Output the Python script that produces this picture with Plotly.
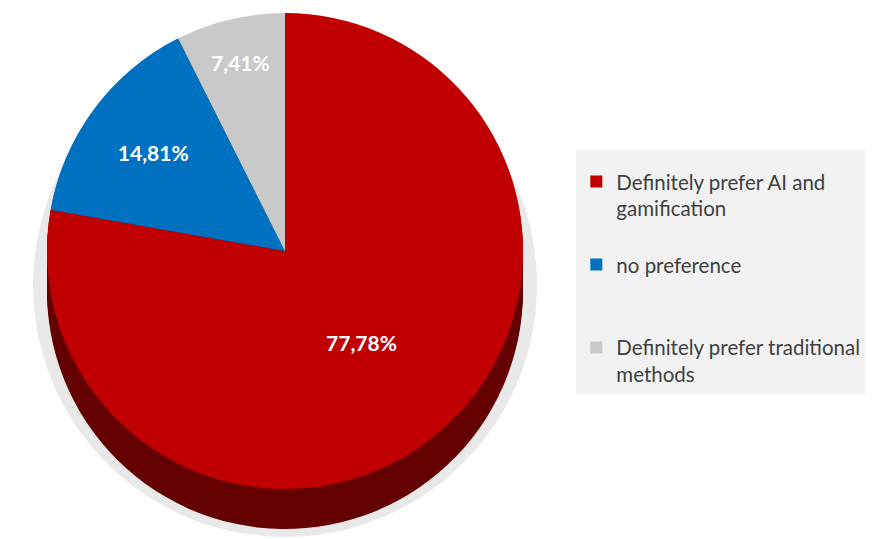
import plotly.graph_objects as go

# ---- data ----
categories = ["Definitely prefer AI and gamification", "no preference",
              "Definitely prefer traditional methods"]
legend_labels = ["Definitely prefer AI and<br>gamification<br> ",
                 "no preference<br> <br> ",
                 "Definitely prefer traditional<br>methods"]
values = [77.78, 14.81, 7.41]

top_colors = ["#c00000", "#0070c0", "#c9c9c9"]
side_colors = ["#640000", "#003f6e", "#8c8c8c"]

# ---- layout geometry (figure pixels; page has an 8px body margin) ----
W, H = 873, 539
cx, cy, r = 277, 243, 238
depth = 40


def dom(cxp, cyp, rp):
    return dict(x=[(cxp - rp) / W, (cxp + rp) / W],
                y=[1 - (cyp + rp) / H, 1 - (cyp - rp) / H])


fig = go.Figure()

# soft shadow under the pie
fig.add_trace(go.Pie(
    labels=[c + " shadow" for c in categories], values=values, sort=False,
    direction="clockwise", rotation=0, domain=dom(cx, cy + 34, r + 14),
    marker=dict(colors=["#e9e9e9"] * 3, line=dict(width=0)),
    textinfo="none", hoverinfo="skip", showlegend=False))

# side (depth) of the 3D pie, built from stacked pies
for k in range(depth, 0, -3):
    fig.add_trace(go.Pie(
        labels=[c + " side" for c in categories], values=values, sort=False,
        direction="clockwise", rotation=0, domain=dom(cx, cy + k, r),
        marker=dict(colors=side_colors, line=dict(width=0)),
        textinfo="none", hoverinfo="skip", showlegend=False))

# top face
fig.add_trace(go.Pie(
    labels=legend_labels, values=values, sort=False,
    direction="clockwise", rotation=0, domain=dom(cx, cy, r),
    marker=dict(colors=top_colors, line=dict(width=0)),
    customdata=categories,
    texttemplate="%{percent:.2%}", textposition="inside",
    insidetextorientation="horizontal",
    insidetextfont=dict(family="Lato", size=21, color="white", weight="bold"),
    hovertemplate="%{customdata}: %{percent:.2%}<extra></extra>",
    showlegend=True))

fig.update_layout(
    width=W, height=H,
    margin=dict(l=0, r=0, t=0, b=0),
    paper_bgcolor="white", plot_bgcolor="white",
    separators=",.",
    font=dict(family="Lato", color="#404040"),
    legend=dict(
        x=0.651, y=0.7365, xanchor="left", yanchor="top",
        bgcolor="#f2f2f2", borderwidth=0,
        font=dict(family="Lato", size=20.5, color="#404040"),
        title=dict(text=" ", font=dict(size=9)),
        valign="top", traceorder="normal",
    ),
)

fig.write_html("out.html")
